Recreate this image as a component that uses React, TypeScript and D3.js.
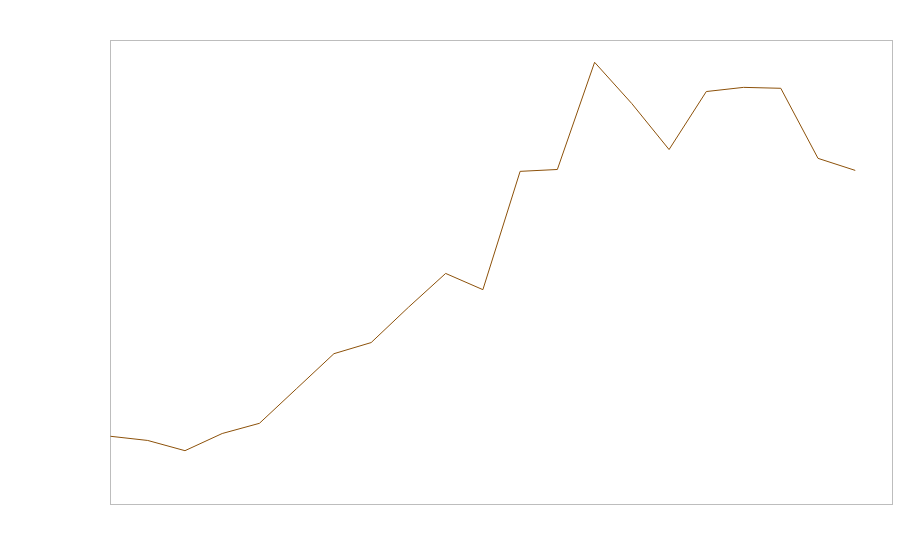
import React, { useRef, useEffect } from "react";
import * as d3 from "d3";

// one series, 21 points (0..100 scale)
const steps: number[] = d3.range(21);
const values: number[] = [
  14.7, 13.8, 11.6, 15.3, 17.5, 25.0, 32.5, 34.9, 42.5, 49.8, 46.3,
  71.8, 72.2, 95.3, 86.4, 76.5, 89.0, 89.9, 89.7, 74.6, 72.0,
];

const App = () => {
  const svgRef = useRef<SVGSVGElement>(null);

  useEffect(() => {
    const svg = d3.select(svgRef.current);
    svg.selectAll("*").remove(); // clear before render

    const width = 900;
    const height = 560;
    const margin = { top: 40, right: 8, bottom: 56, left: 110 };
    const innerW = width - margin.left - margin.right;
    const innerH = height - margin.top - margin.bottom;

    const x = d3.scaleLinear().domain([0, steps.length]).range([0, innerW]);
    const y = d3.scaleLinear().domain([0, 100]).range([innerH, 0]);

    const g = svg
      .append("g")
      .attr("transform", `translate(${margin.left + 0.5}, ${margin.top + 0.5})`);

    // plot frame
    g.append("rect")
      .attr("width", innerW)
      .attr("height", innerH)
      .attr("fill", "none")
      .attr("stroke", "#bdbdbd")
      .attr("stroke-width", 1);

    const line = d3
      .line<number>()
      .x((d, i) => x(steps[i]))
      .y(d => y(d));

    g.append("path")
      .datum(values)
      .attr("d", line)
      .attr("fill", "none")
      .attr("stroke", "#8c510a")
      .attr("stroke-width", 1);
  }, []);

  return (
    <div style={{ position: "fixed", left: 0, top: 0 }}>
      <svg ref={svgRef} width={900} height={560} style={{ display: "block" }}></svg>
    </div>
  );
};

export default App;
